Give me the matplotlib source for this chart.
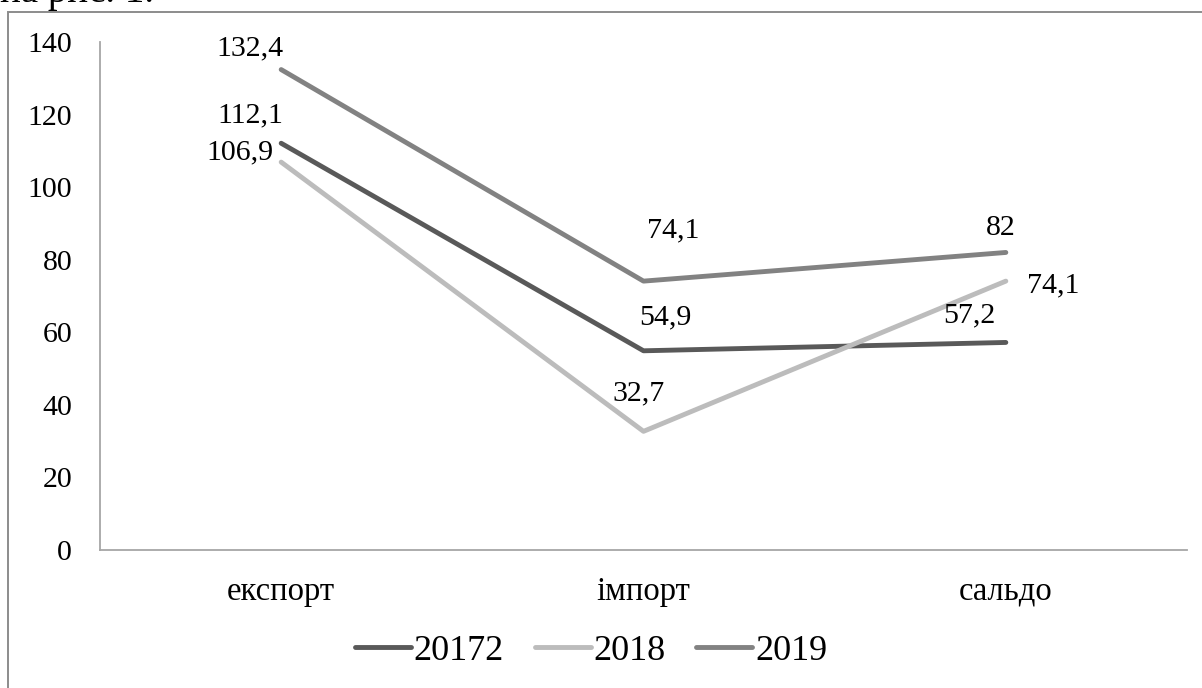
import matplotlib.pyplot as plt
from matplotlib.patches import Rectangle

categories = ['експорт', 'імпорт', 'сальдо']
series_names = ['20172', '2018', '2019']
v2017 = [112.1, 54.9, 57.2]
v2018 = [106.9, 32.7, 74.1]
v2019 = [132.4, 74.1, 82]
label_texts = {
    '20172': ['112,1', '54,9', '57,2'],
    '2018': ['106,9', '32,7', '74,1'],
    '2019': ['132,4', '74,1', '82'],
}
yticks = [0, 20, 40, 60, 80, 100, 120, 140]

colors = ['#595959', '#bcbcbc', '#828282']
# label offsets in pixels (dx, dy) relative to the data point
offsets = {
    '20172': [(-31, 28), (22, 33), (-37, 27)],
    '2018': [(-41, 10), (-5, 38), (47, -4)],
    '2019': [(-31, 21), (30, 51), (-5, 24)],
}

plt.rcParams['font.family'] = ['Liberation Serif', 'DejaVu Serif']
W, H = 1202, 688
fig = plt.figure(figsize=(W / 100, H / 100), dpi=100)
ax = fig.add_axes([100 / W, (H - 550) / H, 1087 / W, 508 / H])

x = range(len(categories))
all_vals = [v2017, v2018, v2019]
for name, vals, c in zip(series_names, all_vals, colors):
    ax.plot(x, vals, color=c, lw=3.5, solid_capstyle='round', label=name)
    for i, (v, t) in enumerate(zip(vals, label_texts[name])):
        dx, dy = offsets[name][i]
        ax.annotate(t, (i, v), xytext=(dx * 0.72, dy * 0.72), textcoords='offset points',
                    ha='center', va='center', fontsize=21.5, color='black')

ax.set_xlim(-0.5, 2.5)
ax.set_ylim(0, 140)
ax.set_yticks(yticks)
ax.set_yticklabels([str(t) for t in yticks], fontsize=21.5)
ax.set_xticks(list(x))
ax.set_xticklabels(categories, fontsize=23.5)
ax.tick_params(axis='y', length=0, pad=20)
ax.tick_params(axis='x', length=0, pad=19)
for s in ['top', 'right']:
    ax.spines[s].set_visible(False)
for s in ['left', 'bottom']:
    ax.spines[s].set_color('#a6a6a6')
    ax.spines[s].set_linewidth(1.3)

leg = fig.legend(loc='center', bbox_to_anchor=(591 / W, (H - 651) / H), ncol=3,
                 frameon=False, fontsize=26, handlelength=1.55, handletextpad=0.08,
                 columnspacing=0.85)

# chart frame
fig.patches.append(Rectangle((8 / W, -0.05), 1.1, (H - 12) / H + 0.05, transform=fig.transFigure,
                             fill=False, edgecolor='#8c8c8c', linewidth=1.4))

# cut-off text from the page above the chart
fig.text(0, 1 - 2 / H, 'на рис. 1.', fontsize=28, ha='left', va='baseline')

fig.savefig('out.png', dpi=100)
